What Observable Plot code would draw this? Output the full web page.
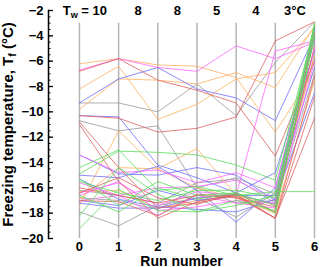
<!DOCTYPE html>
<html><head><meta charset="utf-8">
<script src="https://cdn.jsdelivr.net/npm/d3@7"></script>
<script src="https://cdn.jsdelivr.net/npm/@observablehq/plot@0.6"></script>
<style>html,body{margin:0;padding:0;background:#fff;} svg{display:block}</style>
</head><body><div id="chart"></div>
<script>
const runs = [0, 1, 2, 3, 4, 5, 6];
const twLabels = ["10", "8", "8", "5", "4", "3°C"];
const yTicks = [-20, -18, -16, -14, -12, -10, -8, -6, -4, -2];
const yMinor = d3.range(-20, -1.9, 0.5);
const gridTop = -3;

const orangeRuns = [
  [-6.2, -5.8, -6.3, -6.4, -7.3, -11.6, -6.8],
  [-8.2, -6.4, -10.6, -9.4, -7.4, -6.9, -3.4],
  [-9.8, -7.4, -7.5, -7.8, -6.9, -8.1, -3.2],
  [-17.4, -11.5, -14.5, -12.9, -16.6, -17.3, -5.5],
  [-16.9, -14.4, -14.5, -16.0, -16.8, -18.0, -7.5],
  [-16.3, -16.2, -17.6, -17.0, -16.6, -17.9, -4.0]
];
const pinkRuns = [
  [-6.7, -5.8, -6.5, -6.8, -4.8, -5.8, -4.5],
  [-13.4, -14.8, -14.6, -15.6, -14.8, -16.0, -3.8],
  [-16.4, -15.6, -17.4, -16.3, -16.6, -5.2, -4.4],
  [-16.6, -15.5, -17.8, -17.5, -17.0, -17.2, -5.0],
  [-15.6, -16.6, -16.0, -15.9, -15.4, -16.9, -3.6],
  [-17.0, -16.6, -18.2, -16.6, -17.2, -17.6, -6.0]
];
const blueRuns = [
  [-9.3, -7.4, -6.5, -8.2, -8.9, -10.7, -4.0],
  [-10.3, -10.4, -14.2, -15.2, -16.4, -14.8, -5.2],
  [-13.4, -14.9, -15.0, -14.4, -15.0, -17.0, -3.5],
  [-15.0, -15.2, -14.3, -16.2, -18.7, -16.0, -4.3],
  [-17.0, -17.4, -16.2, -17.0, -16.6, -16.6, -6.5],
  [-17.2, -17.6, -17.6, -16.8, -16.5, -17.3, -3.4],
  [-15.3, -16.9, -17.5, -17.7, -17.9, -16.9, -8.5]
];
const redRuns = [
  [-10.8, -14.4, -17.6, -17.2, -16.6, -18.4, -10.5],
  [-11.0, -15.5, -18.4, -17.1, -16.5, -18.4, -8.8],
  [-6.8, -5.8, -7.5, -8.3, -9.3, -13.5, -6.0],
  [-10.3, -10.5, -11.6, -11.3, -10.4, -4.4, -2.9],
  [-16.0, -16.6, -17.2, -16.6, -16.8, -17.5, -4.8],
  [-16.4, -15.2, -16.8, -17.3, -16.4, -17.9, -3.7],
  [-17.0, -17.1, -18.2, -16.5, -16.7, -18.4, -7.2]
];
const greenRuns = [
  [-14.4, -13.0, -16.2, -15.9, -16.6, -16.3, -16.3],
  [-14.9, -13.1, -13.2, -13.4, -14.2, -15.4, -3.3],
  [-15.5, -16.4, -17.0, -16.2, -16.2, -16.8, -3.6],
  [-18.2, -14.4, -16.5, -17.9, -17.4, -16.6, -3.1],
  [-19.2, -16.1, -17.8, -17.9, -17.0, -17.8, -4.1],
  [-15.3, -17.4, -15.5, -16.6, -16.4, -18.0, -3.9],
  [-16.6, -17.9, -16.0, -16.9, -16.4, -17.4, -3.0]
];
const grayRuns = [
  [-9.3, -9.3, -10.0, -7.8, -10.3, -6.1, -2.9],
  [-10.7, -11.5, -11.1, -16.0, -15.2, -16.5, -4.2],
  [-17.9, -19.0, -17.4, -16.8, -18.3, -16.4, -5.6],
  [-16.8, -17.0, -17.7, -16.0, -17.2, -17.0, -3.3],
  [-16.2, -16.6, -17.2, -15.6, -15.3, -17.2, -7.0]
];

const groups = [
  ["#9a9a9a", grayRuns],
  ["#ffb060", orangeRuns],
  ["#6f6fff", blueRuns],
  ["#ff66ff", pinkRuns],
  ["#e06060", redRuns],
  ["#5cdc5c", greenRuns]
];
const rows = [];
groups.forEach(([color, list], g) =>
  list.forEach((vals, i) =>
    vals.forEach((v, r) => rows.push({id: g + "-" + i, color, run: runs[r], temp: v}))));

const mids = twLabels.map((d, i) => ({label: d, x: (runs[i] + runs[i + 1]) / 2}));

const chart = Plot.plot({
  width: 320, height: 267,
  marginLeft: 48, marginRight: 6, marginTop: 10, marginBottom: 29,
  x: {domain: [-0.79, 6]},
  y: {domain: [-20, -2]},
  style: {fontFamily: "'Liberation Sans', Arial, sans-serif", fontSize: "13px", fontWeight: "bold", background: "#fff", color: "#000"},
  marks: [
    Plot.ruleX(runs, {y1: gridTop, y2: -20, stroke: "#b4b4b4", strokeWidth: 1.5}),
    Plot.line(rows, {x: "run", y: "temp", z: "id", stroke: "color", strokeWidth: 1, strokeOpacity: 0.8}),
    Plot.frame({anchor: "left", strokeWidth: 1.5, stroke: "#000"}),
    Plot.axisY({ticks: yMinor, tickSize: -2.5, text: null, label: null, strokeWidth: 1}),
    Plot.axisY({ticks: yTicks, tickSize: -5, tickPadding: 10, strokeWidth: 1.3, fontSize: 13, fontWeight: "bold",
      label: "Freezing temperature, T_f (°C)", labelAnchor: "center", labelArrow: "none", labelOffset: 46}),
    Plot.axisX({ticks: runs, tickFormat: d => String(d), tickSize: 0, tickPadding: 3, fontSize: 13, fontWeight: "bold",
      label: "Run number", labelAnchor: "center", labelArrow: "none", labelOffset: 27}),
    Plot.text(mids.slice(0, 1), {x: "x", y: () => -2, text: d => "T_w = " + d.label, textAnchor: "end", dx: 8, fontSize: 13, fontWeight: "bold"}),
    Plot.text(mids.slice(1), {x: "x", y: () => -2, text: "label", fontSize: 13, fontWeight: "bold"})
  ]
});
document.getElementById("chart").appendChild(chart);

d3.select(chart).selectAll("text").each(function () {
  const t = this.textContent;
  const m = t.match(/^(.*?)_(\w)(.*)$/);
  if (!m) return;
  const s = d3.select(this);
  s.text(null);
  s.append("tspan").text(m[1]);
  s.append("tspan").attr("dy", 3).attr("font-size", "70%").text(m[2]);
  s.append("tspan").attr("dy", -3).text(m[3]);
});
d3.select(chart).selectAll("[aria-label='y-axis label'] text").attr("font-size", 15);
d3.select(chart).selectAll("[aria-label='x-axis label'] text").attr("font-size", 14);
</script></body></html>
